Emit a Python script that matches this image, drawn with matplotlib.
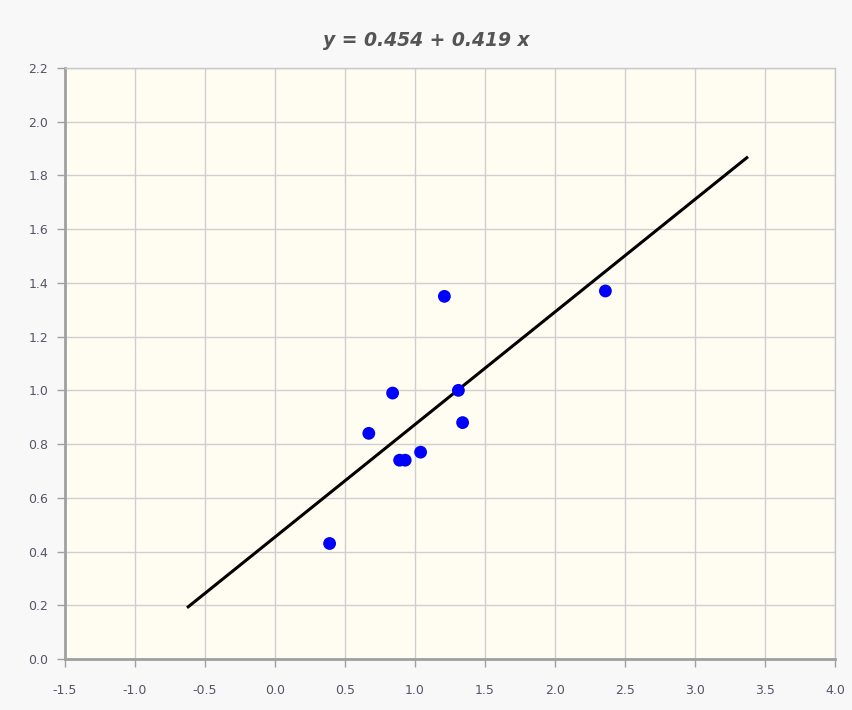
import matplotlib
matplotlib.use("Agg")
import matplotlib.pyplot as plt

# Data
x_vals = [0.39, 0.67, 0.84, 0.89, 0.93, 1.04, 1.21, 1.31, 1.34, 2.36]
y_vals = [0.43, 0.84, 0.99, 0.74, 0.74, 0.77, 1.35, 1.00, 0.88, 1.37]
intercept = 0.454
slope = 0.419
line_x = [-0.62, 3.37]
x_ticks = [-1.5, -1.0, -0.5, 0.0, 0.5, 1.0, 1.5, 2.0, 2.5, 3.0, 3.5, 4.0]
y_ticks = [0.0, 0.2, 0.4, 0.6, 0.8, 1.0, 1.2, 1.4, 1.6, 1.8, 2.0, 2.2]
title = "y = 0.454 + 0.419 x"

fig = plt.figure(figsize=(8.52, 7.10), dpi=100, facecolor="#f8f8f8")
ax = fig.add_axes([65/852, 1-659/710, (835-65)/852, (659-68)/710])
ax.set_facecolor("#fffdf2")

line_y = [intercept + slope * v for v in line_x]
ax.plot(line_x, line_y, color="black", lw=2.2, zorder=3)
ax.scatter(x_vals, y_vals, s=85, color="#0000ff", edgecolors="none", zorder=4)

ax.set_xlim(x_ticks[0], x_ticks[-1])
ax.set_ylim(y_ticks[0], y_ticks[-1])
ax.set_xticks(x_ticks)
ax.set_yticks(y_ticks)
ax.set_xticklabels([f"{v:.1f}" for v in x_ticks])
ax.set_yticklabels([f"{v:.1f}" for v in y_ticks])
ax.grid(True, color="#cfcfcf", lw=1, zorder=0)
ax.set_axisbelow(True)

for s in ["left", "bottom"]:
    ax.spines[s].set_color("#a0a0a0")
    ax.spines[s].set_linewidth(2)
for s in ["top", "right"]:
    ax.spines[s].set_color("#c8c8c8")
    ax.spines[s].set_linewidth(1)

ax.tick_params(axis="both", direction="out", length=6, width=1, color="#a0a0a0",
               labelsize=9, labelcolor="#555566", pad=6)
ax.tick_params(axis="x", pad=12)

fig.text(0.5, 1-40/710, title, ha="center", va="center", fontsize=13.5,
         fontweight="bold", fontstyle="italic", color="#555555")

fig.savefig("out.png", dpi=100, facecolor=fig.get_facecolor())
